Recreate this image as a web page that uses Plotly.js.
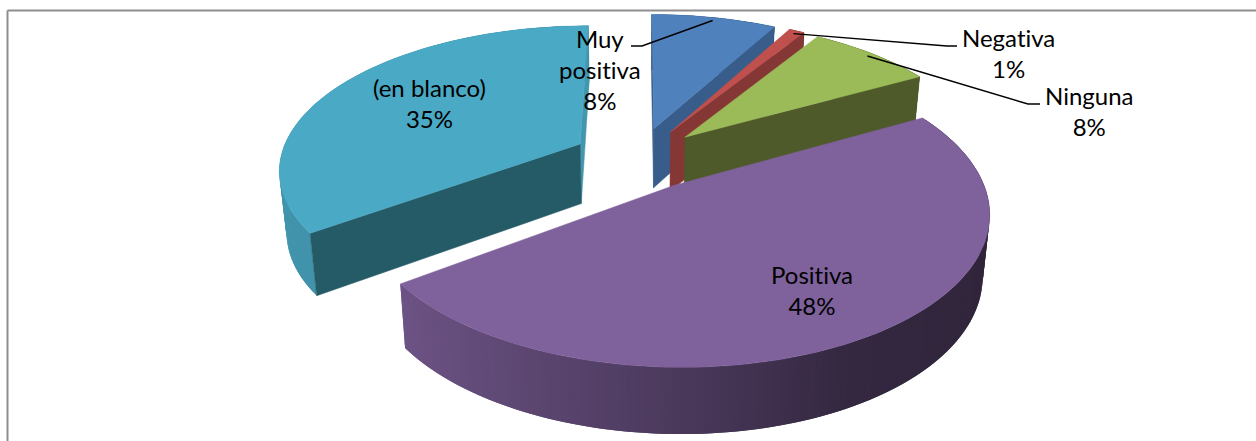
<!DOCTYPE html>
<html>
<head>
<meta charset="utf-8">
<script src="https://cdn.plot.ly/plotly-3.0.1.min.js"></script>
<style>html,body{margin:0;padding:0;background:#fff;overflow:hidden}
text{font-variant-ligatures:none;font-feature-settings:"liga" 0,"clig" 0}</style>
</head>
<body>
<div id="chart" style="width:1256px;height:441px"></div>
<script>
// ---- data ----
const categories = ["Muy positiva", "Negativa", "Ninguna", "Positiva", "(en blanco)"];
const percents = [8, 1, 8, 48, 35];
// ---- styles ----
const topColors = ["#4f81bd", "#c0504d", "#9bbb59", "#7f619c", "#4aa9c4"];
const sideColors = ["#385d8a", "#853735", "#4e5a2a", "#4f3c64", "#255a67"];
const endSideColors = ["#385d8a", "#853735", "#4e5a2a", "#4f3c64", "#4296ad"];
const labelLines = [
  ["Muy", "positiva"], ["Negativa"], ["Ninguna"], ["Positiva"], ["(en blanco)"]
];
const labelPos = [[600, 69.5], [1008, 53], [1089, 111], [812, 290], [429, 103]];
const leaderElbow = [[[631, 46], [642, 46]], [[957, 46], [947, 46]], [[1040, 104], [1028, 104]], null, null];
// ---- projection of the tilted pie onto the axes ----
const cam = {xc: 638, yc: 158, rx: 300, ry: 142, k: 0.165, explode: 0.22, inset: 0.98};
function project(X, Y, lower) {
  const s = 1 / (1 - cam.k * Y);
  const b = lower ? cam.inset : 1;
  const drop = lower ? 15 + 45 * s : 0;
  return [cam.xc + cam.rx * X * s * b, cam.yc + cam.ry * Y * s * b + drop];
}
const rad = d => d * Math.PI / 180;
function shade(hex, f) {
  const n = parseInt(hex.slice(1), 16);
  const c = [n >> 16 & 255, n >> 8 & 255, n & 255].map(v => Math.round(v * f));
  return `rgb(${c[0]},${c[1]},${c[2]})`;
}
function wallFactor(X) {
  const a = [[-1.3, .88], [-.7, .86], [.1, .6], [.6, .41], [1.3, .37]];
  for (let i = 0; i < a.length - 1; i++) {
    if (X <= a[i + 1][0]) {
      const t = Math.max(0, (X - a[i][0]) / (a[i + 1][0] - a[i][0]));
      return a[i][1] + t * (a[i + 1][1] - a[i][1]);
    }
  }
  return .37;
}
const traces = [];
function poly(pts, color, lineWidth) {
  const xs = pts.map(p => p[0]), ys = pts.map(p => p[1]);
  xs.push(xs[0]); ys.push(ys[0]);
  traces.push({type: "scatter", mode: "lines", x: xs, y: ys, fill: "toself", fillcolor: color,
    line: {color: color, width: lineWidth}, hoverinfo: "skip", showlegend: false});
}
// slices with their angles from the percentages
let acc = 0;
const slices = percents.map((p, i) => {
  const a0 = acc * 3.6; acc += p; const a1 = acc * 3.6;
  const m = (a0 + a1) / 2;
  return {i, a0, a1, m, ox: cam.explode * Math.sin(rad(m)), oy: -cam.explode * Math.cos(rad(m))};
});
const rim = (s, a, r = 1) => [s.ox + r * Math.sin(rad(a)), s.oy - r * Math.cos(rad(a))];
function drawSlice(s) {
  const n = Math.max(6, Math.round((s.a1 - s.a0) / 1.2));
  const angles = [];
  for (let j = 0; j <= n; j++) angles.push(s.a0 + (s.a1 - s.a0) * j / n);
  // rim wall: each segment overlaps the next one so no seams show
  for (let j = n - 1; j >= 0; j--) {
    const [X0, Y0] = rim(s, angles[j]), [X1, Y1] = rim(s, angles[Math.min(n, j + 2)]);
    poly([project(X0, Y0), project(X1, Y1), project(X1, Y1, true), project(X0, Y0, true)],
      shade(topColors[s.i], wallFactor(rim(s, angles[j] + (s.a1 - s.a0) / n / 2)[0])), 0);
  }
  // radial walls, only where they face the viewer
  const radial = (a, col) => {
    const [X, Y] = rim(s, a);
    poly([project(s.ox, s.oy), project(X, Y), project(X, Y, true), project(s.ox, s.oy, true)], col, 0.5);
  };
  if (Math.sin(rad(s.a1)) >= -1e-6) radial(s.a1, endSideColors[s.i]);
  if (-Math.sin(rad(s.a0)) >= -1e-6) radial(s.a0, sideColors[s.i]);
  // top face
  const top = [project(s.ox, s.oy)];
  angles.forEach(a => { const [X, Y] = rim(s, a); top.push(project(X, Y)); });
  poly(top, topColors[s.i], 0.5);
}
[4, 0, 1, 2, 3].forEach(i => drawSlice(slices[i]));
// leader lines
leaderElbow.forEach((el, i) => {
  if (!el) return;
  const [X, Y] = rim(slices[i], slices[i].m, 0.97);
  const end = project(X, Y);
  traces.push({type: "scatter", mode: "lines", x: [el[0][0], el[1][0], end[0]], y: [el[0][1], el[1][1], end[1]],
    line: {color: "#000", width: 1.4}, hoverinfo: "skip", showlegend: false});
});
const annotations = categories.map((c, i) => ({
  x: labelPos[i][0], y: labelPos[i][1], xref: "x", yref: "y", showarrow: false,
  text: labelLines[i].concat([percents[i] + "%"]).join("<br>"),
  font: {family: "Lato, sans-serif", size: 24, color: "#000"},
  align: "center", xanchor: "center", yanchor: "middle"
}));
const layout = {
  width: 1256, height: 441, margin: {l: 0, r: 0, t: 0, b: 0},
  paper_bgcolor: "#fff", plot_bgcolor: "#fff", showlegend: false,
  xaxis: {range: [0, 1256], visible: false, fixedrange: true},
  yaxis: {range: [441, 0], visible: false, fixedrange: true},
  annotations,
  shapes: [
    {type: "line", xref: "x", yref: "y", x0: 7.5, x1: 1256, y0: 10.5, y1: 10.5, line: {color: "#8e8e8e", width: 2}},
    {type: "line", xref: "x", yref: "y", x0: 7.5, x1: 7.5, y0: 10.5, y1: 441, line: {color: "#8e8e8e", width: 2}}
  ]
};
Plotly.newPlot("chart", traces, layout, {displayModeBar: false, staticPlot: true});
</script>
</body>
</html>
